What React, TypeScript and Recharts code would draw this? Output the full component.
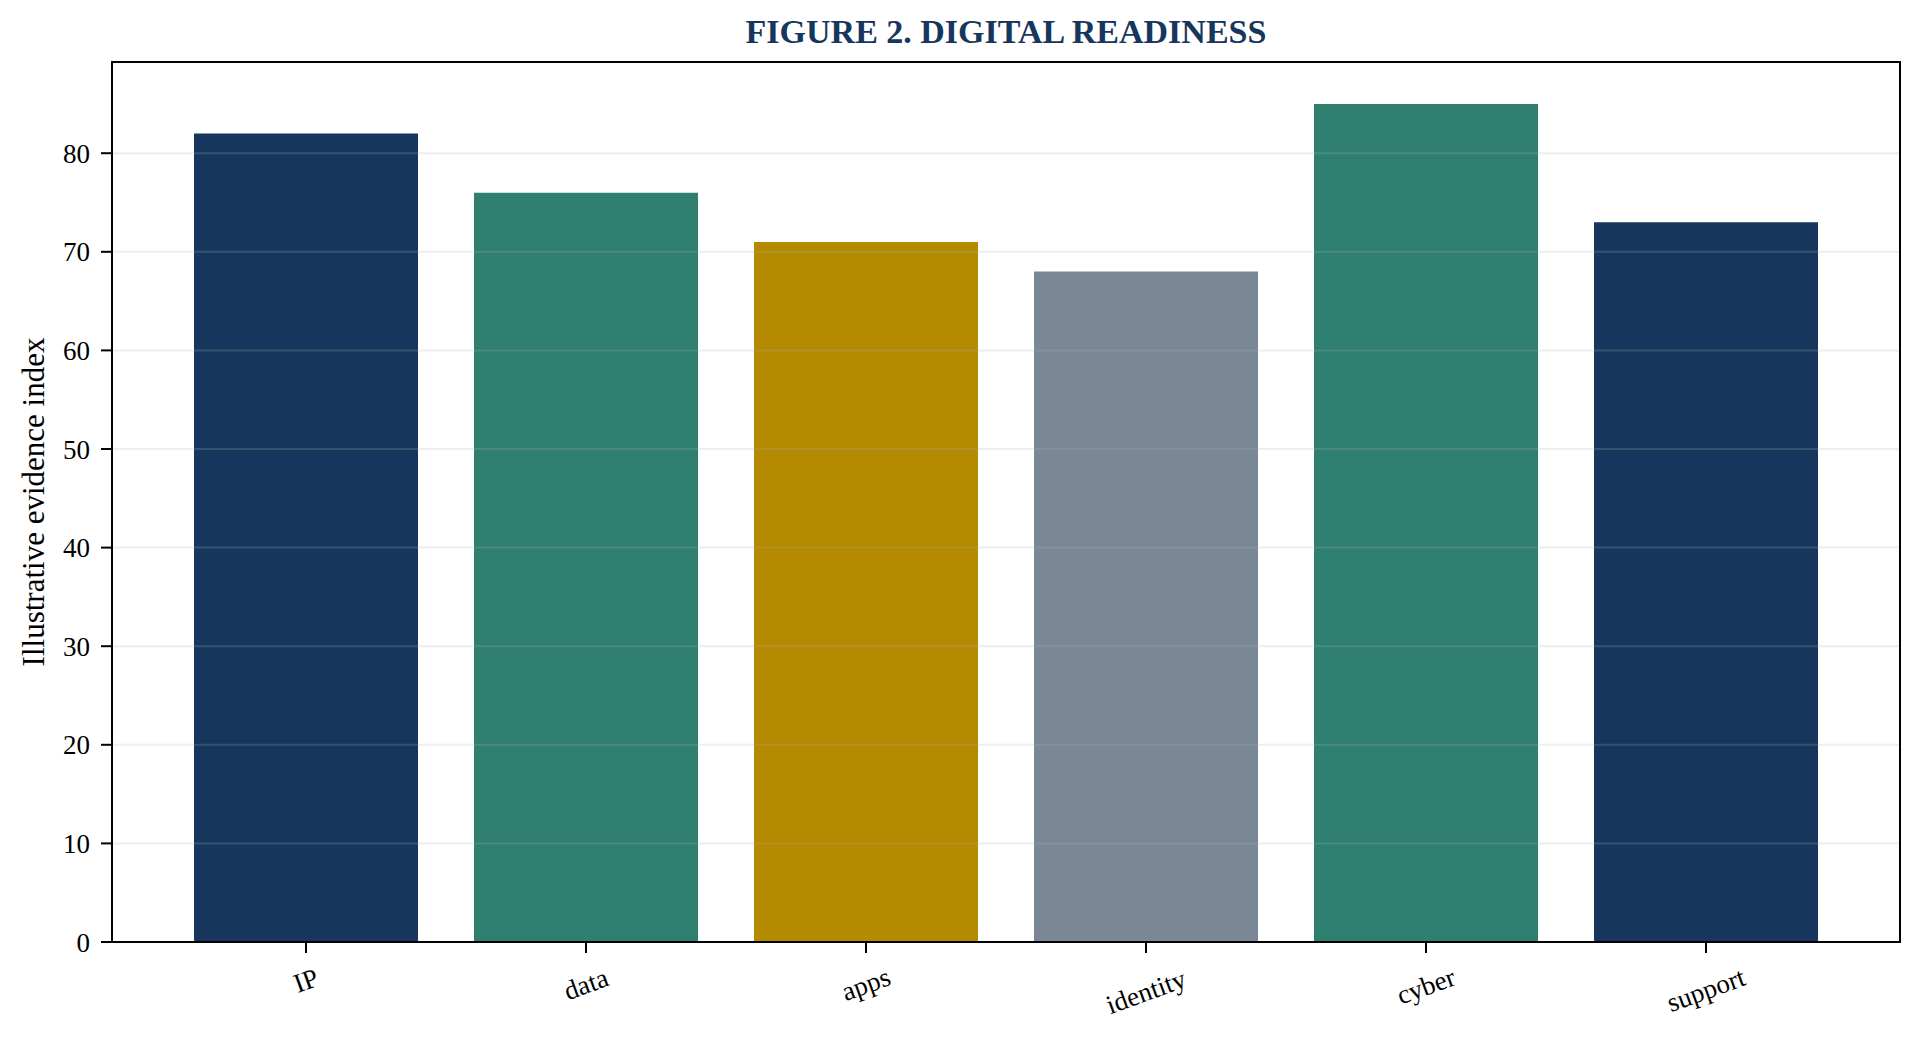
import { BarChart, Bar, Cell, XAxis, YAxis, ReferenceLine } from "recharts";

const categories = ["IP", "data", "apps", "identity", "cyber", "support"];
const scores = [82, 76, 71, 68, 85, 73];
const barColors = ["#17365d", "#2e7f6f", "#b38a00", "#7a8797", "#2e7f6f", "#17365d"];
const yTicks = [0, 10, 20, 30, 40, 50, 60, 70, 80];

const FONT = "'Liberation Serif', 'Times New Roman', serif";
const NAVY = "#17365d";

const data = categories.map((name, i) => ({ name, value: scores[i] }));

// rotated labels: top of rotated box sits a few px under the tick
function AngledTick(props: any) {
  const { x, y, payload } = props;
  const label = String(payload.value);
  const fs = 27;
  const w = label.length * fs * 0.41;
  const boxH = w * Math.sin((20 * Math.PI) / 180) + fs * 0.94;
  const cy = y + 11 + boxH / 2;
  return (
    <text
      x={x}
      y={cy}
      transform={`rotate(-20, ${x}, ${cy})`}
      textAnchor="middle"
      dominantBaseline="central"
      fontFamily={FONT}
      fontSize={fs}
      fill="#000"
    >
      {label}
    </text>
  );
}

function YLabel(props: any) {
  const { viewBox } = props;
  const cy = viewBox.y + viewBox.height / 2;
  return (
    <text
      x={33}
      y={cy}
      transform={`rotate(-90, 33, ${cy})`}
      textAnchor="middle"
      dominantBaseline="central"
      fontFamily={FONT}
      fontSize={31}
      fill="#000"
    >
      Illustrative evidence index
    </text>
  );
}

export default function App() {
  const axisStroke = { stroke: "#000", strokeWidth: 2 };
  return (
    <div style={{ position: "absolute", left: 0, top: 0, width: 1924, height: 1043, background: "#fff" }}>
      <div
        style={{
          position: "absolute",
          left: 112,
          top: 15,
          width: 1788,
          textAlign: "center",
          fontFamily: FONT,
          fontWeight: "bold",
          fontSize: 34,
          lineHeight: "34px",
          color: NAVY,
        }}
      >
        FIGURE 2. DIGITAL READINESS
      </div>
      <BarChart
        width={1924}
        height={1043}
        data={data}
        margin={{ top: 62, right: 24, bottom: 0, left: 0 }}
        barCategoryGap="10%"
      >
        <XAxis
          dataKey="name"
          height={101}
          padding={{ left: 54, right: 54 }}
          tickSize={11}
          tickMargin={0}
          axisLine={axisStroke}
          tickLine={axisStroke}
          tick={<AngledTick />}
          interval={0}
        />
        <YAxis
          width={112}
          domain={[0, 89.25]}
          ticks={yTicks}
          tickSize={11}
          tickMargin={11}
          axisLine={axisStroke}
          tickLine={axisStroke}
          tick={{ fontFamily: FONT, fontSize: 27, fill: "#000" }}
          label={<YLabel />}
        />
        <Bar dataKey="value" isAnimationActive={false}>
          {data.map((d, i) => (
            <Cell key={d.name} fill={barColors[i]} />
          ))}
        </Bar>
        {yTicks.slice(1).map((t) => (
          <ReferenceLine key={t} y={t} stroke="#b0b0b0" strokeOpacity={0.22} strokeWidth={2} />
        ))}
      </BarChart>
      {/* top and right spines of the plot frame */}
      <div
        style={{
          position: "absolute",
          left: 111,
          top: 61,
          width: 1788,
          height: 880,
          borderTop: "2px solid #000",
          borderRight: "2px solid #000",
          pointerEvents: "none",
        }}
      />
    </div>
  );
}
